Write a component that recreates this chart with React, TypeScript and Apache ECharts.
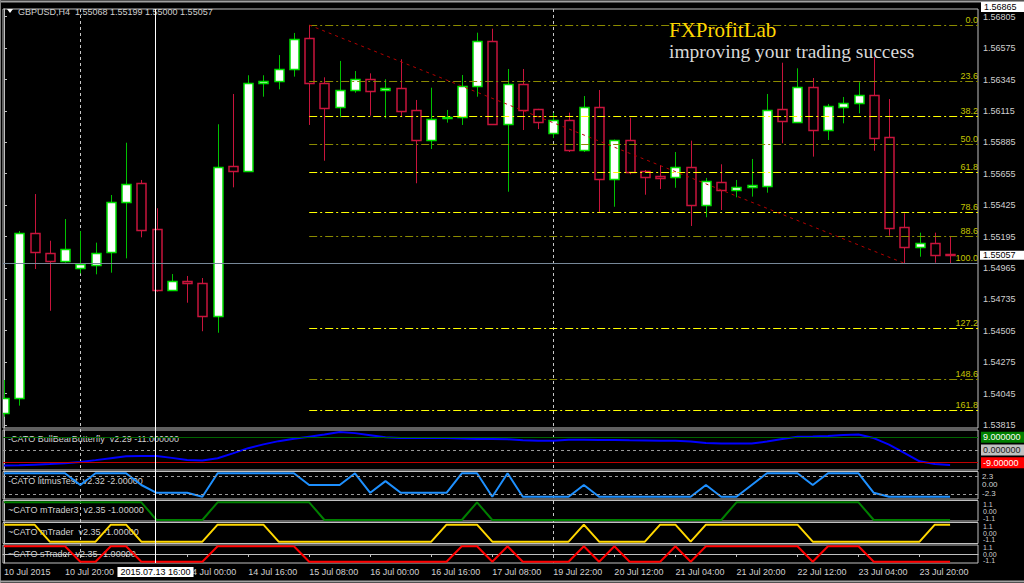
import React, { useEffect, useRef } from 'react';
import * as echarts from 'echarts';

// ---------- data (H4 bars, GBPUSD) ----------
const opens = [1.53900, 1.54010, 1.55218, 1.55072, 1.55016, 1.54962, 1.54988, 1.55079, 1.55450, 1.55585, 1.55248, 1.54801, 1.54871, 1.54857, 1.54613, 1.55709, 1.55677, 1.56319, 1.56332, 1.56422, 1.56647, 1.56317, 1.56146, 1.56270, 1.56347, 1.56268, 1.56285, 1.56119, 1.55900, 1.56061, 1.56068, 1.56297, 1.56625, 1.56019, 1.56312, 1.56127, 1.55951, 1.56048, 1.55829, 1.56141, 1.55614, 1.55902, 1.55673, 1.55638, 1.55629, 1.55702, 1.55426, 1.55596, 1.55538, 1.55555, 1.55565, 1.56127, 1.56031, 1.56292, 1.55975, 1.56144, 1.56171, 1.56229, 1.55922, 1.55262, 1.55116, 1.55145, 1.55068];
const closes = [1.54010, 1.55218, 1.55079, 1.55016, 1.55101, 1.54996, 1.55076, 1.55448, 1.55580, 1.55240, 1.54801, 1.54869, 1.54854, 1.54610, 1.55706, 1.55677, 1.56319, 1.56334, 1.56424, 1.56639, 1.56317, 1.56136, 1.56270, 1.56351, 1.56263, 1.56285, 1.56114, 1.55900, 1.56056, 1.56073, 1.56297, 1.56625, 1.56019, 1.56312, 1.56119, 1.56031, 1.56046, 1.55829, 1.56146, 1.55614, 1.55902, 1.55670, 1.55633, 1.55621, 1.55706, 1.55424, 1.55604, 1.55536, 1.55560, 1.55570, 1.56124, 1.56039, 1.56292, 1.55975, 1.56151, 1.56173, 1.56229, 1.55919, 1.55259, 1.55120, 1.55145, 1.55060, 1.55057];
const highs = [1.54144, 1.55235, 1.55506, 1.55164, 1.55323, 1.55235, 1.55150, 1.55499, 1.55882, 1.55609, 1.55402, 1.54920, 1.54906, 1.54891, 1.56017, 1.56239, 1.56376, 1.56376, 1.56524, 1.56686, 1.56744, 1.56361, 1.56481, 1.56407, 1.56390, 1.56347, 1.56493, 1.56195, 1.56285, 1.56122, 1.56378, 1.56688, 1.56717, 1.56422, 1.56422, 1.56130, 1.56100, 1.56102, 1.56224, 1.56268, 1.55905, 1.56065, 1.55682, 1.55717, 1.55814, 1.55897, 1.55624, 1.55724, 1.55609, 1.55763, 1.56239, 1.56468, 1.56427, 1.56356, 1.56166, 1.56217, 1.56325, 1.56510, 1.56202, 1.55365, 1.55223, 1.55223, 1.55199];
const lows = [1.53875, 1.53956, 1.54957, 1.54651, 1.55003, 1.54925, 1.54918, 1.54930, 1.55035, 1.55189, 1.54791, 1.54798, 1.54710, 1.54501, 1.54490, 1.55555, 1.55674, 1.56219, 1.56273, 1.56366, 1.56012, 1.55750, 1.56068, 1.56248, 1.56080, 1.56061, 1.56073, 1.55585, 1.55836, 1.56029, 1.56012, 1.56219, 1.56012, 1.55523, 1.55975, 1.55982, 1.55916, 1.55814, 1.55814, 1.55367, 1.55413, 1.55651, 1.55501, 1.55543, 1.55552, 1.55272, 1.55336, 1.55389, 1.55482, 1.55487, 1.55516, 1.55878, 1.56028, 1.55780, 1.55902, 1.56024, 1.56097, 1.55823, 1.55201, 1.54999, 1.55047, 1.55003, 1.55000];

const bullBear = [-11, -10.8, -10.4, -10, -9.5, -8.5, -7.2, -5.8, -4.4, -4.2, -4.3, -5.6, -7.1, -7.5, -5.9, -2.4, 1.3, 4, 6.3, 8, 9.5, 11, 12.8, 12, 10.5, 9, 8.5, 8.5, 8.5, 8.5, 8.2, 7.8, 7.8, 7.6, 7, 6.6, 6.6, 7.2, 7.2, 7.1, 7.1, 6.9, 6.8, 6.6, 6.5, 6, 4.9, 4.7, 4.7, 4.7, 6, 7.8, 9.4, 9.6, 10, 10.6, 11, 8.5, 3.8, -2, -8, -10, -10.6];
const litmus = [3, 3, 3, 3, 3, 0, 3, 3, 3, 0, -2, -2, -2, -3, 3, 3, 3, 3, 3, 3, 0, 0, 0, 3, -2, 1, -2, -2, -2, -2, 3, 3, -3, 3, -3, -3, -3, -3, 0, -3, -3, -3, -3, -3, -3, -3, 0, -3, -3, 0, 3, 3, 3, 0, 3, 3, 3, -2, -3, -3, -3, -3, -3];
const mTrader3 = [1, 1, 1, 1, 1, 1, 1, 1, 1, 1, -1, -1, -1, -1, 1, 1, 1, 1, 1, 1, 1, -1, -1, -1, -1, -1, -1, -1, -1, -1, -1, 1, -1, -1, -1, -1, -1, -1, -1, -1, -1, -1, -1, -1, -1, -1, -1, -1, 1, 1, 1, 1, 1, 1, 1, 1, 1, -1, -1, -1, -1, -1, -1];
const mTrader = [1, 1, 1, -1, -1, -1, -1, 1, 1, -1, -1, -1, -1, -1, 1, 1, 1, 1, -1, -1, -1, -1, -1, -1, -1, -1, -1, -1, -1, 1, 1, 1, -1, -1, -1, -1, -1, -1, 1, -1, -1, -1, -1, 1, 1, -1, 1, 1, 1, 1, 1, 1, 1, -1, -1, -1, -1, -1, -1, -1, -1, 1, 1];
const sTrader = [1, 1, 1, 1, 1, -1, -1, 1, 1, -1, -1, -1, -1, -1, 1, 1, 1, 1, 1, 1, -1, -1, -1, -1, -1, -1, -1, -1, -1, -1, 1, 1, -1, 1, -1, -1, -1, -1, 1, -1, 1, -1, -1, -1, 1, -1, 1, 1, 1, 1, 1, 1, 1, -1, 1, 1, 1, -1, -1, -1, -1, -1, -1];

const priceTicks = [1.56805, 1.56575, 1.56345, 1.56115, 1.55885, 1.55655, 1.55425, 1.55195, 1.54965, 1.54735, 1.54505, 1.54275, 1.54045, 1.53815];
const timeTickIndex = [0, 4, 8, 12, 16, 20, 24, 28, 32, 36, 40, 44, 48, 52, 56, 60];
// label at bar 8 is hidden under the crosshair time box in the reference
const timeLabelIndex = [0, 4, 12, 16, 20, 24, 28, 32, 36, 40, 44, 48, 52, 56, 60];
const timeLabels = ['10 Jul 2015', '10 Jul 20:00', '14 Jul 00:00', '14 Jul 16:00', '15 Jul 08:00', '16 Jul 00:00', '16 Jul 16:00', '17 Jul 08:00', '19 Jul 22:00', '20 Jul 12:00', '21 Jul 04:00', '21 Jul 20:00', '22 Jul 12:00', '23 Jul 04:00', '23 Jul 20:00'];

const fibRatios = [0, 0.236, 0.382, 0.5, 0.618, 0.786, 0.886, 1, 1.272, 1.486, 1.618];
const fibNames = ['0.0', '23.6', '38.2', '50.0', '61.8', '78.6', '88.6', '100.0', '127.2', '148.6', '161.8'];
const fibBright = [false, false, true, false, true, true, false, false, true, false, true];
const fibStartBar = 20;
const fibEndBar = 59;

const bbbLevels = [9, 0, -9];
const bbbLevelNames = ['9.000000', '0.000000', '-9.00000'];
const litmusLevels = [2.3, -2.3];
const litmusScale = [2.3, 0, -2.3];
const traderScale = ['1.1', '0.00', '-1.1'];

const bidPrice = 1.55057;
const crossBar = 9.87;
const crossPriceLabel = '1.56865';
const crossTimeLabel = '2015.07.13 16:00';
const weekSeparators = [5, 36];

const headerText = 'GBPUSD,H4  1.55068 1.55199 1.55000 1.55057';
const panelTitles = [
  '-CATO BullBearButterfly  v2.29 -11.000000',
  '-CATO litmusTest  v2.32 -2.00000',
  '~CATO mTrader3  v2.35 -1.00000',
  '~CATO mTrader  v2.35 -1.00000',
  '~CATO sTrader  v2.35 -1.00000',
];

// ---------- layout ----------
const FONT = '"Liberation Sans", Arial, sans-serif';
const xMin = -0.0655;
const xMax = 63.83;
const priceMin = 1.537923;
const priceMax = 1.568614;
const grids = [
  { top: 9, height: 419 },
  { top: 430, height: 40 },
  { top: 471.5, height: 27.5 },
  { top: 500.5, height: 20.5 },
  { top: 522.5, height: 21 },
  { top: 545, height: 18 },
];
const yRanges = [
  [priceMin, priceMax],
  [-14.22, 14.22],
  [-3.59, 3.46],
  [-1.113, 1.203],
  [-1.212, 1.259],
  [-1.169, 1.169],
];
// positions (in panel units) where the cramped trader scale labels sit
const traderScalePos = [0.8, 0, -0.8];

function buildOption() {
  const fibHigh = highs[fibStartBar];
  const fibLow = lows[fibEndBar];
  const range = fibHigh - fibLow;

  const fibLines = fibRatios.map((r, k) => {
    const lvl = fibHigh - r * range;
    return [
      {
        coord: [fibStartBar, lvl],
        lineStyle: { color: fibBright[k] ? '#ffff00' : '#8b8b00', type: [8, 3, 2, 3], width: 1 },
        label: {
          show: true,
          formatter: fibNames[k],
          position: 'insideEndTop',
          color: '#c4c400',
          fontSize: 9,
          fontFamily: FONT,
          distance: [0, 1],
        },
      },
      { coord: [xMax, lvl] },
    ];
  });

  const candleData = opens.map((o, i) => [i, o, closes[i], lows[i], highs[i]]);

  const renderCandle = (params: any, api: any) => {
    const i = api.value(0);
    const o = api.value(1);
    const c = api.value(2);
    const l = api.value(3);
    const h = api.value(4);
    const pO = api.coord([i, o]);
    const yC = api.coord([i, c])[1];
    const yL = api.coord([i, l])[1];
    const yH = api.coord([i, h])[1];
    const bull = c >= o;
    const cx = Math.round(pO[0]) + 0.5;
    const top = Math.round(Math.min(pO[1], yC)) + 0.5;
    const bot = Math.round(Math.max(pO[1], yC)) + 0.5;
    const w = Math.round(api.size([1, 0])[0] * 0.58);
    const wick = bull ? '#00c000' : '#c8143c';
    return {
      type: 'group',
      children: [
        { type: 'line', shape: { x1: cx, y1: yH, x2: cx, y2: top }, style: { stroke: wick, lineWidth: 1 } },
        { type: 'line', shape: { x1: cx, y1: bot, x2: cx, y2: yL }, style: { stroke: wick, lineWidth: 1 } },
        {
          type: 'rect',
          shape: { x: cx - w / 2, y: top, width: w, height: Math.max(bot - top, 1) },
          style: { fill: bull ? '#ffffff' : '#000000', stroke: bull ? '#00e000' : '#c8143c', lineWidth: 1.5 },
        },
      ],
    };
  };

  const gridOpts = grids.map((g) => ({
    left: 3,
    right: 46,
    top: g.top,
    height: g.height,
    show: true,
    borderColor: '#c0c0c0',
    borderWidth: 1,
    backgroundColor: '#000',
  }));

  const xAxes = grids.map((_, k) => {
    const last = k === grids.length - 1;
    return {
      type: 'value',
      gridIndex: k,
      min: xMin,
      max: xMax,
      show: last,
      axisLine: { show: last, lineStyle: { color: '#c0c0c0' } },
      axisTick: { show: last, customValues: timeTickIndex, length: 3, lineStyle: { color: '#c0c0c0' } },
      axisLabel: {
        show: last,
        customValues: timeLabelIndex,
        formatter: (v: number) => {
          const idx = timeLabelIndex.indexOf(Math.round(v));
          return idx >= 0 ? timeLabels[idx] : '';
        },
        color: '#d0d0d0',
        fontSize: 9,
        fontFamily: FONT,
        align: 'left',
        margin: 4,
      },
      splitLine: { show: false },
    };
  });

  const yAxes = grids.map((_, k) => {
    const base: any = {
      type: 'value',
      gridIndex: k,
      position: 'right',
      min: yRanges[k][0],
      max: yRanges[k][1],
      splitLine: { show: false },
      axisLine: { show: true, lineStyle: { color: '#c0c0c0' } },
      axisTick: { show: false },
      axisLabel: { show: false },
    };
    if (k === 0) {
      base.axisTick = { show: true, customValues: priceTicks, length: 3, lineStyle: { color: '#c0c0c0' } };
      base.axisLabel = {
        show: true,
        customValues: priceTicks,
        formatter: (v: number) => v.toFixed(5),
        color: '#d0d0d0',
        fontSize: 9,
        lineHeight: 9,
        fontFamily: FONT,
        margin: 5,
      };
    } else if (k === 2) {
      base.axisLabel = {
        show: true,
        customValues: litmusScale,
        formatter: (v: number) => (Math.abs(v) < 1e-9 ? '0.00' : v.toFixed(1)),
        color: '#d0d0d0',
        fontSize: 8,
        lineHeight: 8,
        fontFamily: FONT,
        margin: 4,
      };
    }
    return base;
  });

  const lineSeries = (k: number, values: number[], color: string, markLine?: any) => ({
    type: 'line',
    xAxisIndex: k,
    yAxisIndex: k,
    data: values.map((v, i) => [i, v]),
    showSymbol: false,
    symbol: 'none',
    lineStyle: { color, width: 2 },
    itemStyle: { color },
    z: 3,
    markLine,
  });

  const bbbMark = {
    silent: true,
    symbol: ['none', 'none'],
    animation: false,
    data: bbbLevels.map((lv, k) => ({
      yAxis: lv,
      lineStyle: {
        color: k === 0 ? '#006400' : k === 1 ? '#9a9a9a' : '#c00000',
        type: k === 1 ? [3, 3] : 'solid',
        width: 1,
      },
      label: {
        show: true,
        position: 'end',
        distance: 3,
        formatter: bbbLevelNames[k],
        backgroundColor: k === 0 ? '#008000' : k === 1 ? '#c0c0c0' : '#ff0000',
        color: k === 1 ? '#202020' : '#ffffff',
        padding: [1, 14, 0, 2],
        fontSize: 9,
        lineHeight: 10,
        fontFamily: FONT,
      },
    })),
  };

  const litmusMark = {
    silent: true,
    symbol: ['none', 'none'],
    animation: false,
    label: { show: false },
    data: litmusLevels.map((lv) => ({ yAxis: lv, lineStyle: { color: '#9a9a9a', type: [3, 3], width: 1 } })),
  };

  return {
    animation: false,
    backgroundColor: '#000000',
    textStyle: { fontFamily: FONT },
    grid: gridOpts,
    xAxis: xAxes,
    yAxis: yAxes,
    series: [
      {
        type: 'custom',
        xAxisIndex: 0,
        yAxisIndex: 0,
        renderItem: renderCandle,
        data: candleData,
        encode: { x: 0, y: [1, 2, 3, 4] },
        clip: true,
        z: 3,
        markLine: {
          silent: true,
          symbol: ['none', 'none'],
          animation: false,
          data: [
            ...fibLines,
            [
              { coord: [fibStartBar, fibHigh], lineStyle: { color: '#b40000', type: [3, 4], width: 1 }, label: { show: false } },
              { coord: [fibEndBar, fibLow] },
            ],
            {
              yAxis: bidPrice,
              lineStyle: { color: '#778899', type: 'solid', width: 1 },
              label: { show: false },
            },
          ],
        },
      },
      lineSeries(1, bullBear, '#0000ff', bbbMark),
      lineSeries(2, litmus, '#1e90ff', litmusMark),
      lineSeries(3, mTrader3, '#008000'),
      lineSeries(4, mTrader, '#ffd700'),
      lineSeries(5, sTrader, '#ff0000'),
    ],
  };
}

function buildGraphic(px: (v: number) => number, pyAt: (k: number, v: number) => number) {
  const yTop = grids[0].top;
  const last = grids[grids.length - 1];
  const yBot = last.top + last.height;
  const els: any[] = [];
  const txt = (x: number, y: number, text: string, opts: any = {}) => ({
    type: 'text',
    x,
    y,
    z: opts.z ?? 20,
    style: {
      text,
      fill: opts.fill ?? '#d0d0d0',
      font: opts.font ?? `9px ${FONT}`,
      lineHeight: opts.lineHeight,
      align: opts.align ?? 'left',
      textAlign: opts.align ?? 'left',
      verticalAlign: 'middle',
      textVerticalAlign: 'middle',
      backgroundColor: opts.bg,
      padding: opts.padding,
    },
  });

  // frame
  els.push({ type: 'line', z: 20, shape: { x1: 0, y1: 1.5, x2: 1024, y2: 1.5 }, style: { stroke: '#a0a0a0', lineWidth: 2 } });
  els.push({ type: 'line', z: 20, shape: { x1: 0.5, y1: 0, x2: 0.5, y2: 583 }, style: { stroke: '#808080', lineWidth: 1 } });
  els.push({ type: 'line', z: 20, shape: { x1: 0, y1: 581.5, x2: 1024, y2: 581.5 }, style: { stroke: '#a0a0a0', lineWidth: 2 } });

  // period separators
  weekSeparators.forEach((b) => {
    const x = Math.round(px(b)) + 0.5;
    els.push({ type: 'line', z: 1, shape: { x1: x, y1: yTop, x2: x, y2: yBot }, style: { stroke: '#c8c8c8', lineWidth: 1, lineDash: [3, 3] } });
  });

  // crosshair
  const cx = Math.round(px(crossBar)) + 0.5;
  els.push({ type: 'line', z: 30, shape: { x1: cx, y1: yTop, x2: cx, y2: yBot }, style: { stroke: '#ffffff', lineWidth: 1 } });
  els.push(txt(cx, 572, crossTimeLabel, { align: 'center', fill: '#000', bg: '#ffffff', padding: [1, 3, 0, 3], z: 40 }));
  els.push(txt(981, 7, crossPriceLabel, { fill: '#000', bg: '#ffffff', padding: [1, 14, 0, 3], z: 40 }));

  // bid price box on the price scale
  els.push(txt(980, pyAt(0, bidPrice), bidPrice.toFixed(5), { fill: '#000', bg: '#ffffff', padding: [0, 14, 0, 3], lineHeight: 9, z: 40 }));

  // cramped scale labels of the three trader panels
  for (let k = 3; k < grids.length; k++) {
    traderScalePos.forEach((p, j) => {
      els.push(txt(983, pyAt(k, p), traderScale[j], { font: `7px ${FONT}`, lineHeight: 7, fill: '#d0d0d0' }));
    });
  }

  // header
  els.push({ type: 'polygon', z: 20, shape: { points: [[7, 9], [13, 9], [10, 13]] }, style: { fill: '#ffffff' } });
  els.push(txt(18, 11.5, headerText, { fill: '#d0d0d0' }));

  // brand
  els.push(txt(669, 30, 'FXProfitLab', { fill: '#ffd700', font: `21px "Liberation Serif", "Times New Roman", serif`, lineHeight: 19 }));
  els.push(txt(669, 51, 'improving your trading success', { fill: '#d8d8d8', font: `19.5px "Liberation Serif", "Times New Roman", serif`, lineHeight: 18 }));

  // panel titles
  const titleY = [439, 481, 509.5, 531.5, 553.5];
  panelTitles.forEach((t, k) => els.push(txt(8, titleY[k], t, { fill: '#d0d0d0', z: 2 })));

  return els;
}

export default function App() {
  const ref = useRef<HTMLDivElement>(null);
  useEffect(() => {
    if (!ref.current) return;
    const chart = echarts.init(ref.current, null, { renderer: 'svg' });
    chart.setOption(buildOption() as any);
    const px = (v: number) => chart.convertToPixel({ xAxisIndex: 0 }, v) as unknown as number;
    const pyAt = (k: number, v: number) => chart.convertToPixel({ yAxisIndex: k }, v) as unknown as number;
    chart.setOption({ graphic: buildGraphic(px, pyAt) } as any);
    return () => chart.dispose();
  }, []);
  return (
    <div
      ref={ref}
      style={{ position: 'absolute', left: 0, top: 0, width: 1024, height: 583, background: '#000' }}
    />
  );
}
